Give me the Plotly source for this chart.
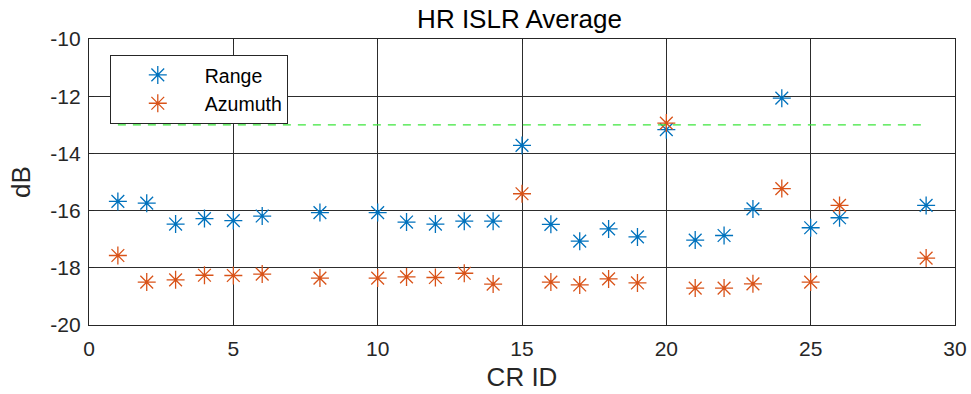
import plotly.graph_objects as go

cr_id = [1, 2, 3, 4, 5, 6, 8, 10, 11, 12, 13, 14, 15, 16, 17, 18, 19, 20, 21, 22, 23, 24, 25, 26, 29]
range_db = [-15.68, -15.74, -16.47, -16.28, -16.35, -16.19, -16.07, -16.07, -16.40, -16.47, -16.37, -16.37,
            -13.72, -16.48, -17.07, -16.64, -16.92, -13.17, -17.03, -16.87, -15.94, -12.07, -16.60, -16.25, -15.82]
azimuth_db = [-17.57, -18.50, -18.42, -18.26, -18.27, -18.22, -18.36, -18.36, -18.32, -18.34, -18.19, -18.57,
              -15.41, -18.50, -18.60, -18.39, -18.53, -12.94, -18.71, -18.71, -18.56, -15.23, -18.50, -15.82, -17.66]
threshold_x = [1, 29]
threshold_y = [-13, -13]
x_ticks = [0, 5, 10, 15, 20, 25, 30]
x_tick_labels = ["0", "5", "10", "15", "20", "25", "30"]
y_ticks = [-20, -18, -16, -14, -12, -10]
y_tick_labels = ["-20", "-18", "-16", "-14", "-12", "-10"]

FONT = "Liberation Sans, Arial, sans-serif"

fig = go.Figure()
fig.add_trace(go.Scatter(x=cr_id, y=range_db, mode="markers", name="Range",
                         marker=dict(symbol="asterisk-open", size=15, color="#0072BD",
                                     line=dict(color="#0072BD", width=1.3))))
fig.add_trace(go.Scatter(x=cr_id, y=azimuth_db, mode="markers", name="Azumuth",
                         marker=dict(symbol="asterisk-open", size=15, color="#D95319",
                                     line=dict(color="#D95319", width=1.3))))
fig.add_trace(go.Scatter(x=threshold_x, y=threshold_y, mode="lines", showlegend=False,
                         line=dict(color="rgb(60,230,60)", width=1.2, dash="8px,7px")))

axis_common = dict(showline=True, linecolor="#262626", linewidth=1.3, mirror="ticks",
                   showgrid=True, gridcolor="rgb(45,45,45)", gridwidth=1,
                   ticks="inside", ticklen=5, tickcolor="#262626", zeroline=False,
                   automargin=False,
                   tickfont=dict(family=FONT, size=21, color="#262626"))

fig.update_layout(
    width=971, height=394,
    margin=dict(l=89, r=16, t=39, b=69, autoexpand=False),
    plot_bgcolor="white", paper_bgcolor="white",
    title=dict(text="HR ISLR Average", x=0.535, xanchor="center", y=0.953, yanchor="middle",
               automargin=False,
               font=dict(family=FONT, size=26, color="black")),
    xaxis=dict(range=[0, 30], tickvals=x_ticks, ticktext=x_tick_labels, ticklabelstandoff=5,
               title=dict(text="CR ID", font=dict(family=FONT, size=26, color="#262626"), standoff=8),
               **axis_common),
    yaxis=dict(range=[-20, -10], tickvals=y_ticks, ticktext=y_tick_labels, ticklabelstandoff=3,
               title=dict(text="dB", font=dict(family=FONT, size=26, color="#262626"), standoff=12),
               **axis_common),
    legend=dict(x=0.024, y=0.945, xanchor="left", yanchor="top",
                bordercolor="#262626", borderwidth=1, bgcolor="white",
                font=dict(family=FONT, size=19.5, color="black"),
                itemwidth=84, tracegroupgap=0),
    showlegend=True,
)

fig.write_html("out.html")
